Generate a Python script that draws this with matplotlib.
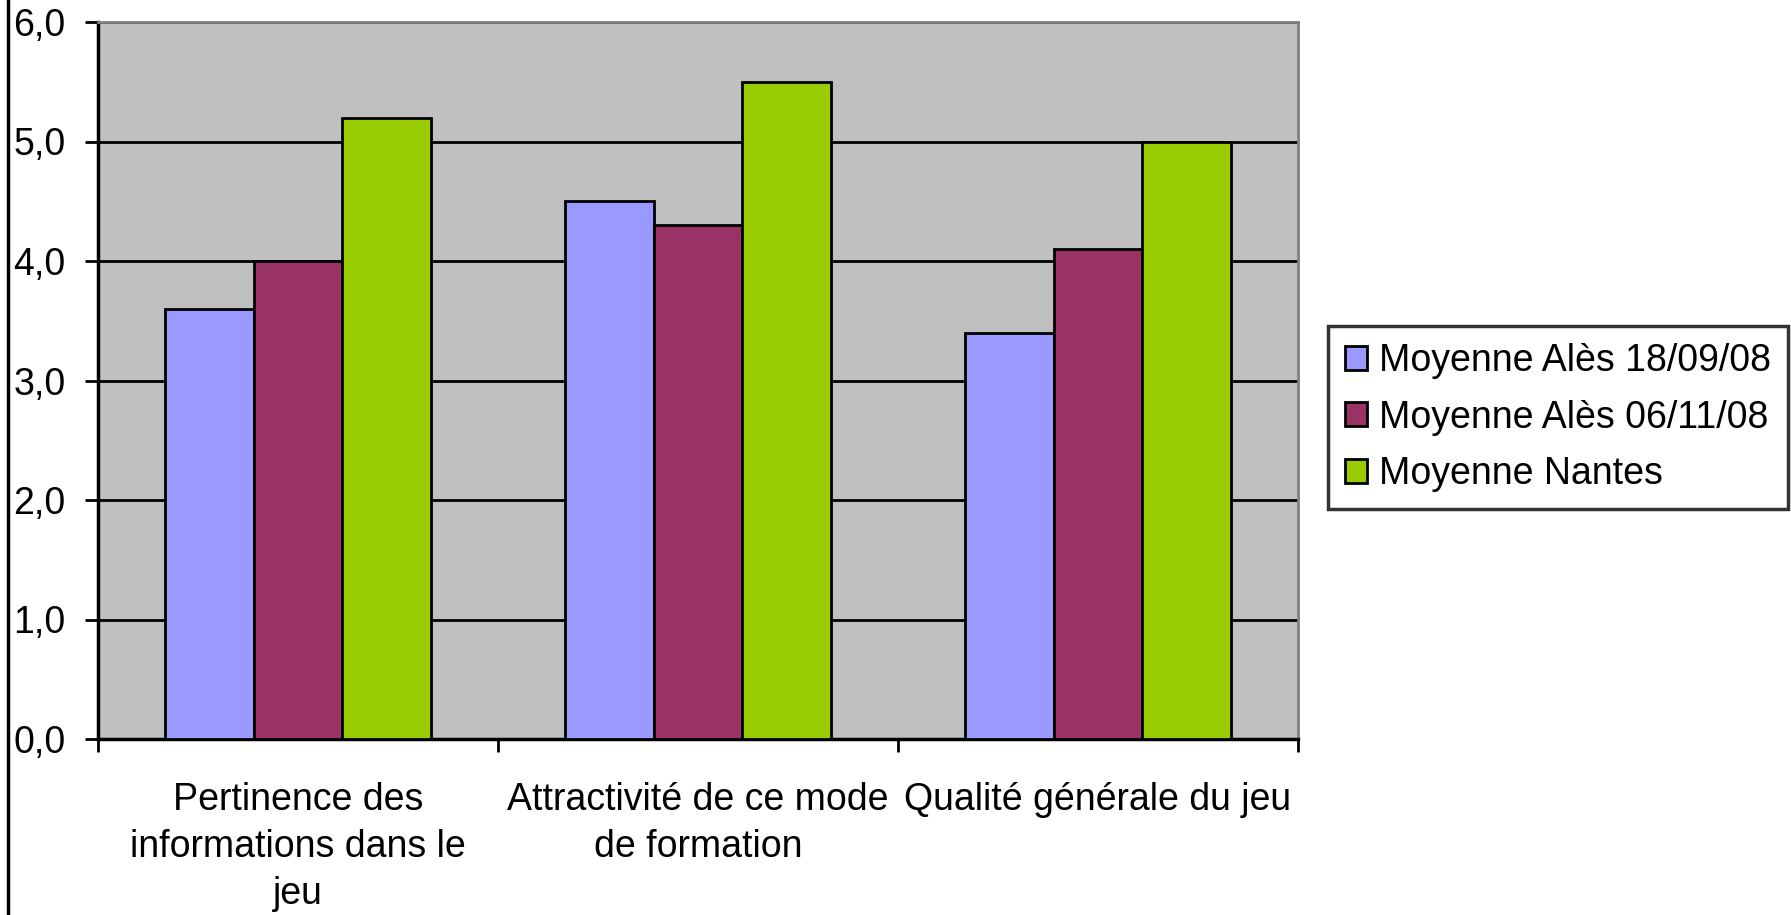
import matplotlib
matplotlib.use('Agg')
from matplotlib import pyplot as plt
from matplotlib.lines import Line2D
import numpy as np

plt.rcParams['font.family'] = ['Liberation Sans', 'DejaVu Sans']

categories = ['Pertinence des\ninformations dans le\njeu',
              'Attractivité de ce mode\nde formation',
              'Qualité générale du jeu']
series_names = ['Moyenne Alès 18/09/08', 'Moyenne Alès 06/11/08', 'Moyenne Nantes']
ales_sept = [3.6, 4.5, 3.4]
ales_nov = [4.0, 4.3, 4.1]
nantes = [5.2, 5.5, 5.0]
colors = ['#9999FF', '#993366', '#99CC00']

fig = plt.figure(figsize=(17.91, 9.15), dpi=100)
# plot area: x 98..1298 px, y 22..739 px
ax = fig.add_axes([98 / 1791, 1 - 739 / 915, 1200 / 1791, 717 / 915])
ax.set_facecolor('#C0C0C0')

x = np.arange(len(categories))
w = 1 / 4.5
for i, (vals, name) in enumerate(zip([ales_sept, ales_nov, nantes], series_names)):
    ax.bar(x + (i - 1) * w, vals, w, color=colors[i], edgecolor='black',
           linewidth=2, label=name, zorder=3)

ax.set_ylim(0, 6)
ax.set_xlim(-0.5, 2.5)
ax.set_yticks(np.arange(0, 7, 1))
ax.set_yticklabels([f'{v:.1f}'.replace('.', ',') for v in range(7)])
ax.yaxis.grid(True, color='black', linewidth=2, zorder=1)
ax.set_axisbelow(True)

ax.set_xticks(x)
ax.set_xticklabels(categories, fontsize=27, linespacing=1.4)
ax.set_xticks(np.arange(-0.5, 3, 1), minor=True)
ax.tick_params(axis='x', which='major', length=0, pad=31)
ax.tick_params(axis='x', which='minor', length=9.5, width=2, direction='out')
ax.tick_params(axis='y', length=9.5, width=2, labelsize=27, pad=14)

for side in ['top', 'right']:
    ax.spines[side].set_color('#808080')
    ax.spines[side].set_linewidth(2)
for side in ['left', 'bottom']:
    ax.spines[side].set_color('black')
    ax.spines[side].set_linewidth(2.5)

leg = ax.legend(loc='upper left', bbox_to_anchor=(1.025, 0.576), borderaxespad=0,
                fontsize=27, frameon=True, fancybox=False, edgecolor='black',
                handlelength=0.6, handleheight=0.6, handletextpad=0.32,
                labelspacing=0.55, borderpad=0.45)
leg.get_frame().set_linewidth(2.5)

fig.add_artist(Line2D([0.0045, 0.0045], [0, 1], color='black', linewidth=2.5))

fig.savefig('out.png', dpi=100)
